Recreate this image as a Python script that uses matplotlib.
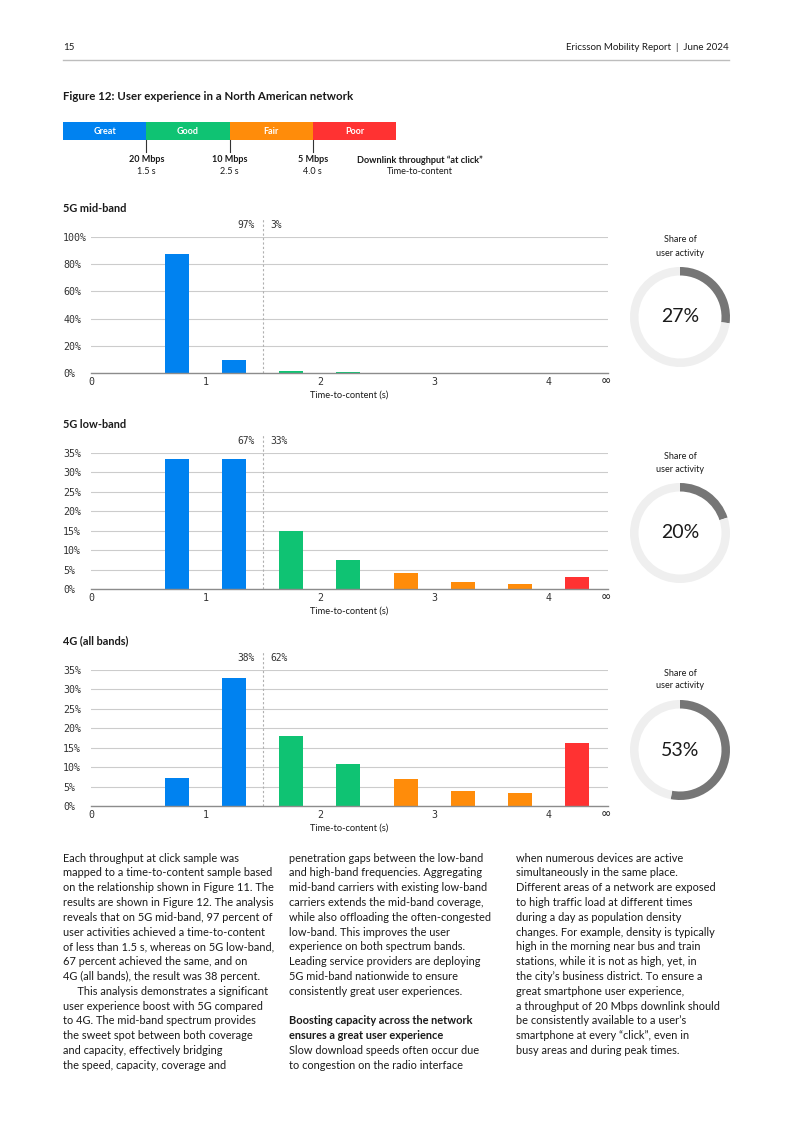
import numpy as np
import matplotlib
matplotlib.use('Agg')
import matplotlib.pyplot as plt
from matplotlib.lines import Line2D

# ---- data ----
bins = [0.75, 1.25, 1.75, 2.25, 2.75, 3.25, 3.75, 4.25]   # time-to-content bin centres (s)
bin_class = [0, 0, 1, 1, 2, 2, 2, 3]                        # Great/Good/Fair/Poor per bin

midband = [87.3, 9.8, 1.7, 0.5, 0, 0, 0, 0]
lowband = [33.5, 33.5, 15.0, 7.5, 4.0, 1.7, 1.4, 3.1]
allbands_4g = [7.2, 33.0, 18.1, 10.7, 7.0, 3.9, 3.3, 16.2]

panel_titles = ['5G mid-band', '5G low-band', '4G (all bands)']
panel_ymax = [100, 35, 35]
panel_ystep = [20, 5, 5]
split_below = [97, 67, 38]
split_above = [3, 33, 62]
activity_share = [27, 20, 53]

classes = ['Great', 'Good', 'Fair', 'Poor']
class_colors = ['#0082F0', '#0FC373', '#FF8C0A', '#FF3232']
thresholds_mbps = ['20 Mbps', '10 Mbps', '5 Mbps']
thresholds_s = ['1.5 s', '2.5 s', '4.0 s']

xtick_pos = [0, 1, 2, 3, 4]
xtick_lbl = ['0', '1', '2', '3', '4']
inf_pos = 4.5

body_col1 = [
    "Each throughput at click sample was",
    "mapped to a time-to-content sample based",
    "on the relationship shown in Figure 11. The",
    "results are shown in Figure 12. The analysis",
    "reveals that on 5G mid-band, 97 percent of",
    "user activities achieved a time-to-content",
    "of less than 1.5 s, whereas on 5G low-band,",
    "67 percent achieved the same, and on",
    "4G (all bands), the result was 38 percent.",
    "     This analysis demonstrates a significant",
    "user experience boost with 5G compared",
    "to 4G. The mid-band spectrum provides",
    "the sweet spot between both coverage",
    "and capacity, effectively bridging",
    "the speed, capacity, coverage and",
]
body_col2 = [
    "penetration gaps between the low-band",
    "and high-band frequencies. Aggregating",
    "mid-band carriers with existing low-band",
    "carriers extends the mid-band coverage,",
    "while also offloading the often-congested",
    "low-band. This improves the user",
    "experience on both spectrum bands.",
    "Leading service providers are deploying",
    "5G mid-band nationwide to ensure",
    "consistently great user experiences.",
    "",
    "**Boosting capacity across the network",
    "**ensures a great user experience",
    "Slow download speeds often occur due",
    "to congestion on the radio interface",
]
body_col3 = [
    "when numerous devices are active",
    "simultaneously in the same place.",
    "Different areas of a network are exposed",
    "to high traffic load at different times",
    "during a day as population density",
    "changes. For example, density is typically",
    "high in the morning near bus and train",
    "stations, while it is not as high, yet, in",
    "the city\u2019s business district. To ensure a",
    "great smartphone user experience,",
    "a throughput of 20 Mbps downlink should",
    "be consistently available to a user\u2019s",
    "smartphone at every \u201cclick\u201d, even in",
    "busy areas and during peak times.",
]

# ---- layout helpers (pixels on a 793x1122 page) ----
W, H = 793, 1122
def fx(x): return x / W
def fy(y): return 1 - y / H
def box(l, t, r, b): return [l / W, 1 - b / H, (r - l) / W, (b - t) / H]

TXT = 'Lato'
MONO = 'DejaVu Sans Mono'
DARK = '#1a1a1a'

fig = plt.figure(figsize=(W / 100, H / 100), dpi=100)

# header
fig.text(fx(63), fy(48), '15', family=TXT, fontsize=7, color=DARK, va='center')
fig.text(fx(729), fy(48), 'Ericsson Mobility Report  |  June 2024', family=TXT,
         fontsize=7, color=DARK, va='center', ha='right')
fig.add_artist(Line2D([fx(63), fx(729)], [fy(60), fy(60)], color='#bdbdbd', lw=1))

fig.text(fx(63), fy(96), 'Figure 12: User experience in a North American network',
         family=TXT, fontsize=8.3, weight='bold', color=DARK, va='center')

# colour scale bar
axc = fig.add_axes(box(63, 122, 396, 140))
axc.barh(0.5, [1] * 4, left=np.arange(4), height=1, color=class_colors)
for i, c in enumerate(classes):
    axc.text(i + 0.5, 0.5, c, ha='center', va='center', color='white',
             family=TXT, fontsize=6.5, weight='bold')
for i in range(3):
    axc.plot([i + 1, i + 1], [0, -0.67], color='#333333', lw=0.8, clip_on=False)
    axc.text(i + 1, -1.1, thresholds_mbps[i], ha='center', va='center',
             family=TXT, fontsize=6.5, weight='bold', color=DARK)
    axc.text(i + 1, -1.75, thresholds_s[i], ha='center', va='center',
             family=TXT, fontsize=6.5, color=DARK)
axc.text(4.29, -1.1, 'Downlink throughput \u201cat click\u201d', ha='center', va='center',
         family=TXT, fontsize=6.6, weight='bold', color=DARK)
axc.text(4.29, -1.75, 'Time-to-content', ha='center', va='center',
         family=TXT, fontsize=6.6, color=DARK)
axc.set_xlim(0, 4)
axc.set_ylim(0, 1)
axc.axis('off')

# bar panels
series = [midband, lowband, allbands_4g]
panel_top = [237, 453, 670]
panel_h = 136
bar_colors = [class_colors[k] for k in bin_class]

for p in range(3):
    top = panel_top[p]
    bot = top + panel_h
    fig.text(fx(63), fy(top - 29), panel_titles[p], family=TXT, fontsize=7.9,
             weight='bold', color=DARK, va='center')

    ax = fig.add_axes(box(91, top, 608, bot))
    ax.bar(bins, series[p], width=0.21, color=bar_colors, zorder=3)
    yt = np.arange(0, panel_ymax[p] + 1, panel_ystep[p])
    ax.set_ylim(0, panel_ymax[p])
    ax.set_xlim(0, 4.52)
    ax.set_yticks(yt)
    ax.set_yticklabels([f'{v}%' for v in yt], family=MONO, fontsize=7.2, color='#333333',
                       ha='left')
    ax.tick_params(axis='y', length=0, pad=20)
    ax.set_xticks(xtick_pos)
    ax.set_xticklabels(xtick_lbl, family=MONO, fontsize=7.2, color='#333333')
    ax.tick_params(axis='x', length=0, pad=3)
    ax.text(inf_pos, -0.058, '∞', transform=ax.get_xaxis_transform(), ha='center',
            va='center', family=MONO, fontsize=10, color='#333333')
    ax.text(0.5, -0.165, 'Time-to-content (s)', transform=ax.transAxes, ha='center',
            va='center', family=TXT, fontsize=6.7, color=DARK)
    ax.grid(axis='y', color='#cccccc', lw=0.8, zorder=0)
    for s in ['top', 'right', 'left']:
        ax.spines[s].set_visible(False)
    ax.spines['bottom'].set_color('#8c8c8c')
    ax.spines['bottom'].set_linewidth(1.0)
    ax.spines['bottom'].set_zorder(4)

    # split line at 1.5 s
    ytop = panel_ymax[p] * (1 + 19 / panel_h)
    ax.plot([1.5, 1.5], [0, ytop], ls=(0, (2, 2)), color='#b0b0b0', lw=0.8,
            clip_on=False, zorder=2)
    ylab = panel_ymax[p] * (1 + 12 / panel_h)
    ax.text(1.43, ylab, f'{split_below[p]}%', ha='right', va='center', family=MONO,
            fontsize=6.9, color='#333333', clip_on=False)
    ax.text(1.57, ylab, f'{split_above[p]}%', ha='left', va='center', family=MONO,
            fontsize=6.9, color='#333333', clip_on=False)

    # donut
    cy = top + 80
    fig.text(fx(680), fy(top + 3), 'Share of', family=TXT, fontsize=6.5, color=DARK,
             ha='center', va='center')
    fig.text(fx(680), fy(top + 16), 'user activity', family=TXT, fontsize=6.5, color=DARK,
             ha='center', va='center')
    axd = fig.add_axes(box(630, cy - 50, 730, cy + 50))
    axd.pie([activity_share[p], 100 - activity_share[p]], colors=['#767676', '#efefef'],
            startangle=90, counterclock=False,
            wedgeprops=dict(width=0.17, edgecolor='none'))
    axd.set_xlim(-1, 1)
    axd.set_ylim(-1, 1)
    axd.set_aspect('equal')
    axd.text(0, 0, f'{activity_share[p]}%', ha='center', va='center', family=TXT,
             fontsize=14, color=DARK)

# body text
line_h = 14.8
for x0, col in [(63, body_col1), (289, body_col2), (516, body_col3)]:
    for i, line in enumerate(col):
        w = 'normal'
        if line.startswith('**'):
            line = line[2:]
            w = 'bold'
        fig.text(fx(x0), fy(858 + i * line_h), line, family=TXT, fontsize=7.9,
                 weight=w, color=DARK, va='center')

fig.savefig('out.png', dpi=100)
